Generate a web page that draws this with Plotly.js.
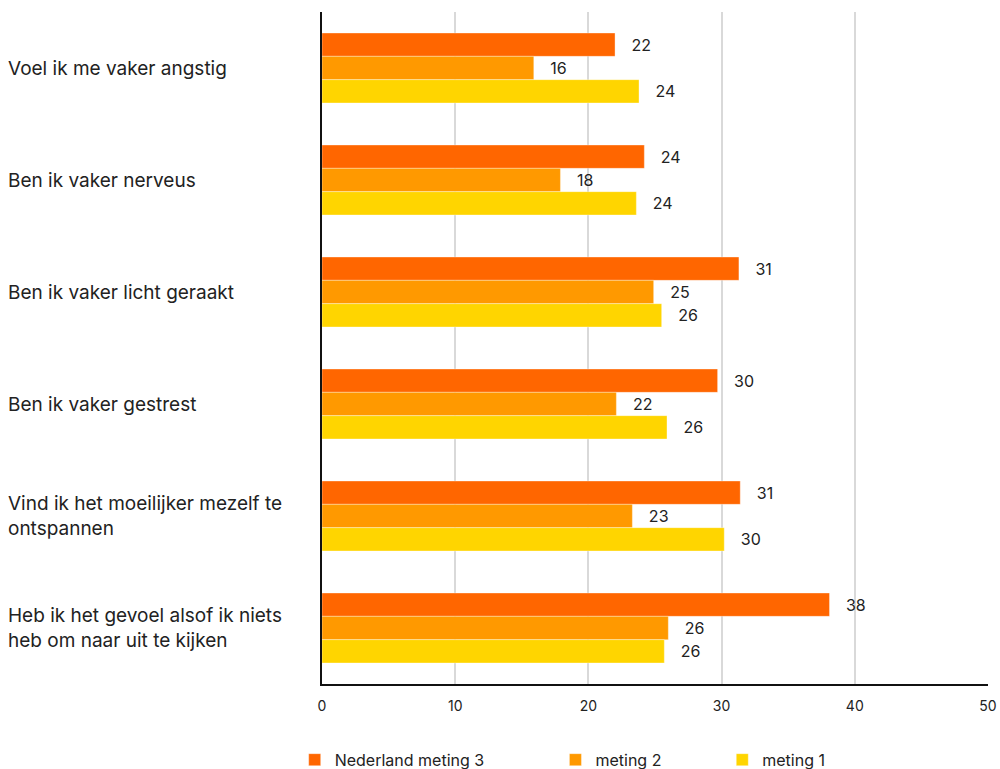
<!DOCTYPE html>
<html>
<head>
<meta charset="utf-8">
<script src="https://cdn.plot.ly/plotly-3.0.1.min.js"></script>
<style>html,body{margin:0;padding:0;background:#fff;}#chart{width:1000px;height:769px;}</style>
</head>
<body>
<div id="chart"></div>
<script>
const categories = [
  "Voel ik me vaker angstig",
  "Ben ik vaker nerveus",
  "Ben ik vaker licht geraakt",
  "Ben ik vaker gestrest",
  "Vind ik het moeilijker mezelf te<br>ontspannen",
  "Heb ik het gevoel alsof ik niets<br>heb om naar uit te kijken"
];
const seriesNames = ["Nederland meting 3", "meting 2", "meting 1"];
const meting3 = [22.0, 24.2, 31.3, 29.7, 31.4, 38.1];
const meting2 = [15.9, 17.9, 24.9, 22.1, 23.3, 26.0];
const meting1 = [23.8, 23.6, 25.5, 25.9, 30.2, 25.7];
const colors = ["#FF6600", "#FF9900", "#FFD500"];
const xTicks = [0, 10, 20, 30, 40, 50];

const FONT = "Inter, 'Open Sans', sans-serif";
const catIdx = categories.map((c, i) => i);
const allSeries = [meting3, meting2, meting1];

const traces = allSeries.map((vals, k) => ({
  type: "bar",
  orientation: "h",
  name: seriesNames[k],
  x: vals,
  y: catIdx,
  marker: {color: colors[k], line: {color: "rgba(255,255,255,0.35)", width: 1}},
  texttemplate: "   %{x:.0f}",
  textposition: "outside",
  cliponaxis: false,
  textfont: {family: FONT, size: 16, color: "#222"},
  hoverinfo: "x+name",
  legend: k === 0 ? "legend" : ("legend" + (k + 1))
}));

const annotations = categories.map((c, i) => ({
  xref: "paper", yref: "y",
  x: -0.4745, y: i,
  xanchor: "left", yanchor: "middle",
  align: "left",
  text: c,
  showarrow: false,
  font: {family: FONT, size: 19, color: "#222"}
}));

const legendBase = (x) => ({
  orientation: "h", x: x, xanchor: "left",
  yref: "container", y: 0.012, yanchor: "middle",
  font: {family: FONT, size: 16, color: "#222"},
  itemwidth: 30, bgcolor: "rgba(0,0,0,0)"
});

const layout = {
  width: 1000, height: 769,
  margin: {l: 322, r: 12, t: 12, b: 85},
  paper_bgcolor: "#fff", plot_bgcolor: "#fff",
  barmode: "group",
  bargap: 0.375,
  bargroupgap: 0,
  xaxis: {
    range: [0, 50], tickvals: xTicks, ticktext: xTicks.map(String),
    showgrid: true, gridcolor: "#d9d9d9", gridwidth: 2,
    zeroline: false, showline: true, linecolor: "#111", linewidth: 2,
    ticks: "", tickfont: {family: FONT, size: 14, color: "#222"},
    ticklabelstandoff: 8, fixedrange: true
  },
  yaxis: {
    range: [5.5, -0.5], showticklabels: false, showgrid: false,
    zeroline: false, showline: true, linecolor: "#111", linewidth: 2,
    ticks: "", fixedrange: true
  },
  annotations: annotations,
  showlegend: true,
  legend: legendBase(-0.041),
  legend2: legendBase(0.3505),
  legend3: legendBase(0.601),
  font: {family: FONT}
};

Plotly.newPlot("chart", traces, layout, {displayModeBar: false, staticPlot: true});
</script>
</body>
</html>
